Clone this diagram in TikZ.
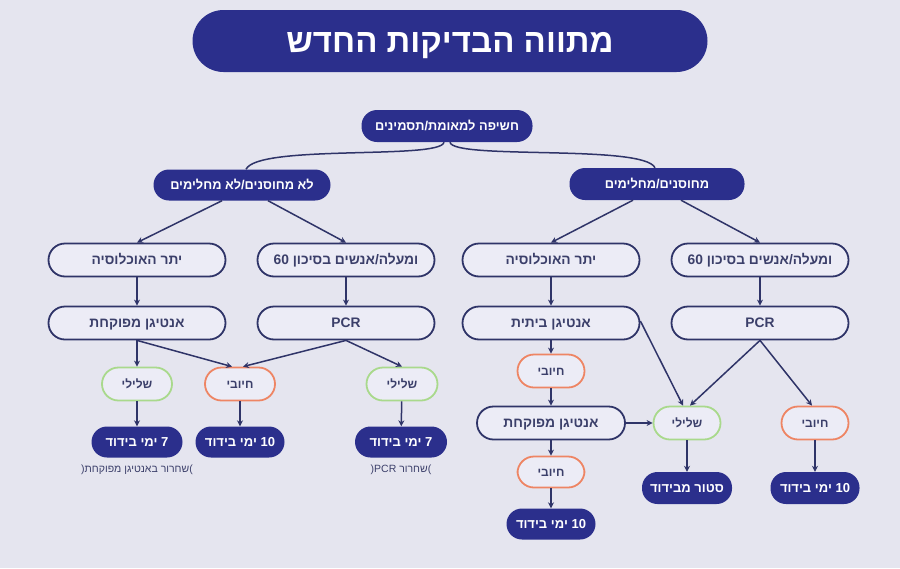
\documentclass[tikz,border=0pt]{standalone}
\usepackage{fontspec}
\setmainfont{Liberation Sans}
\newfontfamily\heb[Script=Hebrew]{Liberation Sans}
\TeXXeTstate=1
\usetikzlibrary{arrows.meta}
\definecolor{bg}{HTML}{E5E5EF}
\definecolor{navy}{HTML}{2B2F8C}
\definecolor{edge}{HTML}{2F3468}
\definecolor{ofill}{HTML}{ECECF6}
\definecolor{otext}{HTML}{3B3F6A}
\definecolor{gline}{HTML}{A9D98C}
\definecolor{rline}{HTML}{EE8564}
\newcommand\heR[1]{\beginR#1\endR}
\begin{document}
\begin{tikzpicture}[x=1pt,y=-1pt,
  base/.style={rectangle, inner sep=0pt, text depth=0pt},
  titlebox/.style={base, fill=navy, text=white, rounded corners=31pt, minimum width=515pt, minimum height=62pt, text height=22.5pt, font=\heb\bfseries\fontsize{33}{36}\selectfont},
  dbox/.style={base, fill=navy, text=white, rounded corners=15.5pt, minimum height=31pt, text height=8.9pt, font=\heb\bfseries\fontsize{13}{15}\selectfont},
  hbox/.style={dbox, text height=8.7pt, font=\heb\bfseries\fontsize{12.8}{15}\selectfont},
  obox/.style={base, draw=edge, line width=1.8pt, fill=ofill, text=otext, rounded corners=16.5pt, minimum width=177pt, minimum height=33pt, text height=9.4pt, font=\heb\bfseries\fontsize{13.8}{16}\selectfont},
  gbox/.style={obox, draw=gline, minimum width=70pt, text height=8.2pt, font=\heb\bfseries\fontsize{12}{14}\selectfont},
  rbox/.style={gbox, draw=rline},
  note/.style={text=otext, font=\heb\fontsize{10.5}{12}\selectfont},
  arr/.style={draw=edge, line width=1.5pt, -{Stealth[length=6pt,width=6pt]}},
  link/.style={draw=edge, line width=1.5pt},
]
\fill[bg] (0,0) rectangle (900,568);
\useasboundingbox (0,0) rectangle (900,568);

\node[titlebox] (title) at (450,41) {\heR{מתווה הבדיקות החדש}};

\node[hbox, minimum width=171pt, minimum height=32pt] (top) at (447,126) {\heR{חשיפה למאומת/תסמינים}};
\node[hbox, minimum width=177pt] (L1) at (242,185) {\heR{לא מחוסנים/לא מחלימים}};
\node[hbox, minimum width=175pt, minimum height=32pt] (R1) at (657,184) {\heR{מחוסנים/מחלימים}};

\node[obox] (LA) at (137,260) {\heR{יתר האוכלוסיה}};
\node[obox] (LB) at (346,260) {60 \heR{ומעלה/אנשים בסיכון}};
\node[obox] (RA) at (551,260) {\heR{יתר האוכלוסיה}};
\node[obox] (RB) at (760,260) {60 \heR{ומעלה/אנשים בסיכון}};

\node[obox] (LA2) at (137,323) {\heR{אנטיגן מפוקחת}};
\node[obox] (LB2) at (346,323) {PCR};
\node[obox] (RA2) at (551,323) {\heR{אנטיגן ביתית}};
\node[obox] (RB2) at (760,323) {PCR};

\node[gbox] (Lneg) at (137,384) {\heR{שלילי}};
\node[rbox] (Lpos) at (240,384) {\heR{חיובי}};
\node[gbox, minimum width=71pt] (Lneg2) at (402,384) {\heR{שלילי}};

\node[dbox, minimum width=91pt] (L7a) at (137,442) {\heR{7 ימי בידוד}};
\node[dbox, minimum width=89pt] (L10) at (240,442) {\heR{10 ימי בידוד}};
\node[dbox, minimum width=92pt] (L7b) at (401,442) {\heR{7 ימי בידוד}};
\node[note] (n1) at (137,470) {(\heR{שחרור באנטיגן מפוקחת})};
\node[note] (n2) at (401,470) {(\heR{שחרור PCR})};

\node[rbox, minimum width=67pt] (Rpos1) at (551,371) {\heR{חיובי}};
\node[obox, minimum width=148pt] (Rant) at (551,423) {\heR{אנטיגן מפוקחת}};
\node[gbox, minimum width=67pt] (Rneg) at (687,423) {\heR{שלילי}};
\node[rbox, minimum width=67pt] (Rpos3) at (815,423) {\heR{חיובי}};
\node[rbox, minimum width=67pt, minimum height=31pt] (Rpos2) at (551,472) {\heR{חיובי}};
\node[dbox, minimum width=89pt] (R10a) at (551,524) {\heR{10 ימי בידוד}};
\node[dbox, minimum width=90pt, minimum height=32pt] (Rstor) at (687,488) {\heR{סטור מבידוד}};
\node[dbox, minimum width=89pt, minimum height=32pt] (R10b) at (815,488) {\heR{10 ימי בידוד}};

% top curves
\draw[link] ([xshift=-3pt]top.south) .. controls (441,160) and (258,144) .. ([xshift=4pt]L1.north);
\draw[link] ([xshift=3pt]top.south) .. controls (453,160) and (644,144) .. ([xshift=-2pt]R1.north);

% level 1 -> level 2
\draw[arr] ([xshift=-20pt]L1.south) -- (LA.north);
\draw[arr] ([xshift=26pt]L1.south) -- (LB.north);
\draw[arr] ([xshift=-24pt]R1.south) -- (RA.north);
\draw[arr] ([xshift=24pt]R1.south) -- (RB.north);

% level 2 -> level 3
\draw[arr] (LA) -- (LA2);
\draw[arr] (LB) -- (LB2);
\draw[arr] (RA) -- (RA2);
\draw[arr] (RB) -- (RB2);

% left results
\draw[arr] (LA2.south) -- (Lneg.north);
\draw[arr] (LA2.south) -- ([xshift=-8pt]Lpos.north);
\draw[arr] (LB2.south) -- ([xshift=3pt]Lpos.north);
\draw[arr] (LB2.south) -- (Lneg2.north);
\draw[arr] (Lneg) -- (L7a);
\draw[arr] (Lpos) -- (L10);
\draw[arr] (Lneg2) -- (L7b);

% right results
\draw[arr] (RA2) -- (Rpos1);
\draw[arr] (Rpos1) -- (Rant);
\draw[arr] (Rant) -- (Rpos2);
\draw[arr] (Rpos2) -- (R10a);
\draw[arr] (Rant.east) -- (Rneg.west);
\draw[arr] ([yshift=2pt]RA2.east) -- ([xshift=-4pt]Rneg.north);
\draw[arr] (RB2.south) -- ([xshift=3pt]Rneg.north);
\draw[arr] (RB2.south) -- ([xshift=-3pt]Rpos3.north);
\draw[arr] (Rneg) -- (Rstor);
\draw[arr] (Rpos3) -- (R10b);
\end{tikzpicture}
\end{document}
